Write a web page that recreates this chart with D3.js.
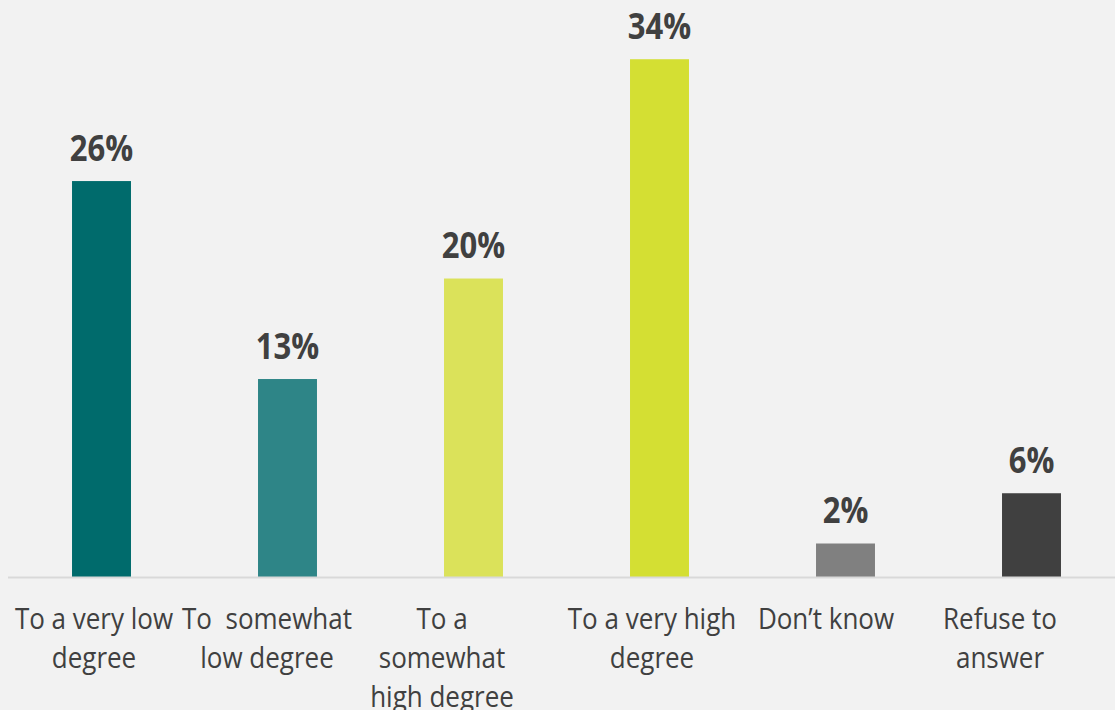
<!DOCTYPE html>
<html>
<head>
<meta charset="utf-8">
<script src="https://cdn.jsdelivr.net/npm/d3@7"></script>
<style>
  html, body { margin: 0; padding: 0; background: #f2f2f2; }
  svg { display: block; }
  text { white-space: pre; }
</style>
</head>
<body>
<svg id="chart" width="1115" height="710"></svg>
<script>
// ---- data ----
const categories = [
  "To a very low degree",
  "To  somewhat low degree",
  "To a somewhat high degree",
  "To a very high degree",
  "Don\u2019t know",
  "Refuse to answer"
];
const categoryLines = [
  ["To a very low", "degree"],
  ["To  somewhat", "low degree"],
  ["To a", "somewhat", "high degree"],
  ["To a very high", "degree"],
  ["Don\u2019t know"],
  ["Refuse to", "answer"]
];
const values = [26, 13, 19.6, 34, 2.2, 5.5];
const valueLabels = ["26%", "13%", "20%", "34%", "2%", "6%"];
const colors = ["#006b6c", "#2e8587", "#dbe25a", "#d4df33", "#808080", "#404040"];

// ---- layout ----
const W = 1115, H = 710;
const baseY = 577;
const stretch = 1.13;
const svg = d3.select("#chart");
svg.append("rect").attr("width", W).attr("height", H).attr("fill", "#f2f2f2");

const x = d3.scaleBand()
  .domain(categories)
  .range([8.5, 1124.5])
  .paddingInner(0.683)
  .paddingOuter(0.3415);
const y = d3.scaleLinear().domain([0, 35]).range([baseY, 44]);

// bars
svg.selectAll("rect.bar")
  .data(categories)
  .join("rect")
  .attr("class", "bar")
  .attr("x", d => x(d))
  .attr("width", x.bandwidth())
  .attr("y", (d, i) => y(values[i]))
  .attr("height", (d, i) => y(0) - y(values[i]))
  .attr("fill", (d, i) => colors[i]);

// baseline axis
const axis = d3.axisBottom(x).tickSize(0).tickFormat("");
const axG = svg.append("g").attr("transform", `translate(0,${baseY + 0.5})`).call(axis);
axG.select(".domain").attr("stroke", "#d9d9d9").attr("stroke-width", 2)
  .attr("d", `M8,0H${W}`);

function stretched(sel, bx, by) {
  sel.attr("transform", `translate(${bx},${by}) scale(1,${stretch})`);
}

// value labels
svg.selectAll("text.val")
  .data(categories)
  .join("text")
  .attr("class", "val")
  .attr("text-anchor", "middle")
  .attr("font-family", "'Open Sans', sans-serif")
  .attr("font-weight", "bold")
  .attr("font-size", 31)
  .attr("fill", "#404040")
  .each(function (d, i) {
    stretched(d3.select(this), x(d) + x.bandwidth() / 2, y(values[i]) - 20.5);
  })
  .text((d, i) => valueLabels[i]);

// category labels (multi-line)
const labelShift = [-7.5, -20.5, -31.5, -7.5, -19.5, -31.5];
const lines = [];
categories.forEach((c, i) => categoryLines[i].forEach((t, j) => lines.push({ c, i, j, t })));
svg.selectAll("text.cat")
  .data(lines)
  .join("text")
  .attr("class", "cat")
  .attr("text-anchor", "middle")
  .attr("font-family", "'Open Sans', sans-serif")
  .attr("font-size", 26)
  .attr("fill", "#404040")
  .each(function (d) {
    stretched(d3.select(this), x(d.c) + x.bandwidth() / 2 + labelShift[d.i], 629 + d.j * 39);
  })
  .text(d => d.t);
</script>
</body>
</html>
